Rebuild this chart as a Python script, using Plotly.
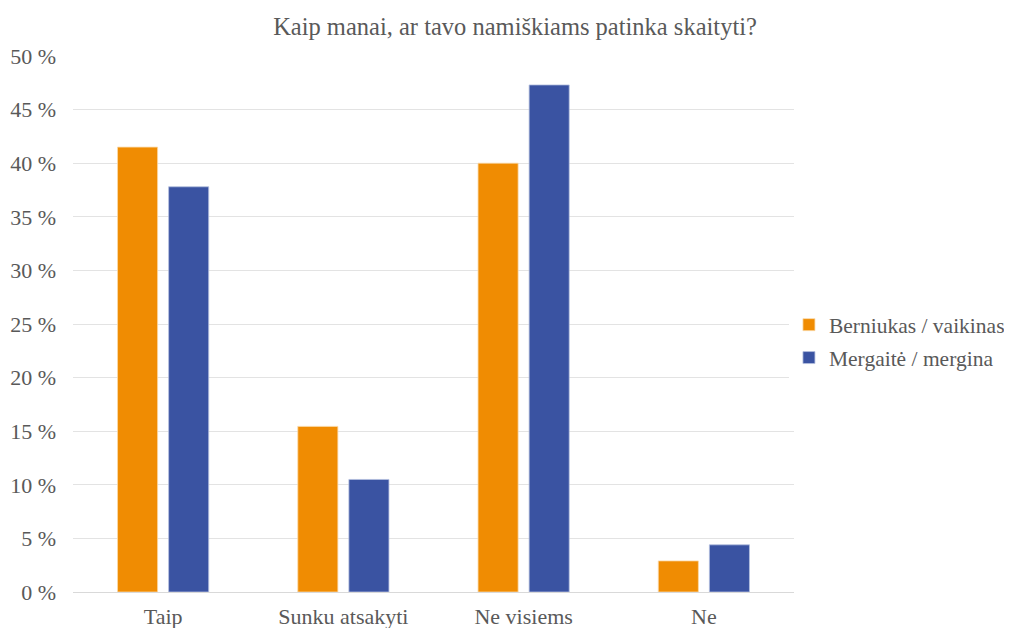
import plotly.graph_objects as go

categories = ["Taip", "Sunku atsakyti", "Ne visiems", "Ne"]
boys = [41.5, 15.45, 40.0, 2.9]
girls = [37.8, 10.5, 47.3, 4.4]
series_names = ["Berniukas / vaikinas", "Mergaitė / mergina"]
tick_vals = [0, 5, 10, 15, 20, 25, 30, 35, 40, 45, 50]
tick_text = [f"{v} %" for v in tick_vals]
title_text = "Kaip manai, ar tavo namiškiams patinka skaityti?"

FONT = "Liberation Serif"
GRAY = "#595959"

fig = go.Figure()
fig.add_trace(go.Bar(x=categories, y=boys, name=series_names[0], legendgroup="a",
                     marker=dict(color="#F08C02", line=dict(color="#FAD9A8", width=0.8))))
fig.add_trace(go.Bar(x=categories, y=girls, name=series_names[1], legendgroup="b",
                     marker=dict(color="#3A53A2", line=dict(color="#B5C0E0", width=0.8))))

fig.update_layout(
    width=1012, height=628,
    margin=dict(l=65, r=226, t=48, b=43.5, autoexpand=False),
    paper_bgcolor="white", plot_bgcolor="white",
    barmode="group", bargap=0.433, bargroupgap=0.216,
    font=dict(family=FONT, color=GRAY, size=22),
    title=dict(text=title_text, x=0.501, xref="container", xanchor="center", y=0.971, yanchor="middle",
               font=dict(family=FONT, size=24.5, color=GRAY)),
    legend=dict(x=0.993, y=0.468, xanchor="left", yanchor="middle",
                font=dict(family=FONT, size=21.5, color=GRAY),
                traceorder="grouped", tracegroupgap=2, itemwidth=30),
    showlegend=True,
)
fig.update_xaxes(showgrid=False, showline=True, linecolor="#D9D9D9", linewidth=1, automargin=False,
                 ticks="", ticklabelstandoff=5, tickfont=dict(family=FONT, size=22, color=GRAY))
fig.update_yaxes(range=[0, 50], tickvals=tick_vals, ticktext=tick_text, automargin=False,
                 showgrid=True, gridcolor="#E3E3E3", gridwidth=1, zeroline=False,
                 showline=False, ticks="", ticklabelstandoff=16,
                 tickfont=dict(family=FONT, size=22, color=GRAY))

fig.write_html("out.html")
